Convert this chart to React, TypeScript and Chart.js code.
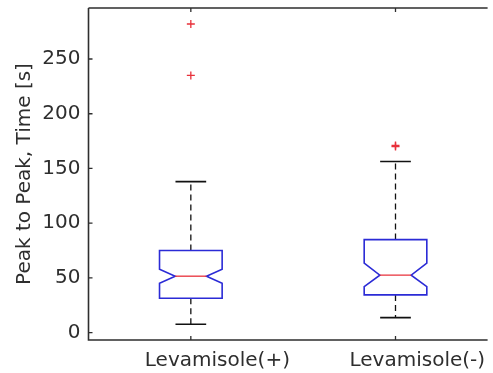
import React, { useEffect, useRef } from "react";
import { Chart, registerables } from "chart.js";

Chart.register(...registerables);

// ---- Data ----
const categories = ["Levamisole(+)", "Levamisole(-)"];
const q1Values = [31.4, 34.5];
const medianValues = [51.6, 52.5];
const q3Values = [75.0, 85.0];
const notchLowValues = [45.2, 42.0];
const notchHighValues = [58.0, 63.5];
const whiskerLowValues = [7.7, 13.7];
const whiskerHighValues = [138.0, 156.4];
const outliersLevPlus = [282, 235];
const outliersLevMinus = [170, 171];
const yTickValues = [0, 50, 100, 150, 200, 250];

// ---- Styling ----
const FONT = "'DejaVu Sans', sans-serif";
const FONT_SIZE = 20;
const AXIS_COLOR = "#2e2e2e";
const BOX_COLOR = "#2b2bd6";
const MEDIAN_COLOR = "#e8303a";
const OUTLIER_COLOR = "#e8303a";
const BOX_HALF = 0.153; // in x data units
const CAP_HALF = 0.075;

const boxPlugin = {
  id: "notchedBoxes",
  beforeDatasetsDraw(chart: any) {
    const { ctx } = chart;
    const x = chart.scales.x;
    const y = chart.scales.y;
    ctx.save();
    categories.forEach((_, i) => {
      const pos = i + 1;
      const xc = x.getPixelForValue(pos);
      const xl = x.getPixelForValue(pos - BOX_HALF);
      const xr = x.getPixelForValue(pos + BOX_HALF);
      const xnl = x.getPixelForValue(pos - BOX_HALF / 2);
      const xnr = x.getPixelForValue(pos + BOX_HALF / 2);
      const cl = x.getPixelForValue(pos - CAP_HALF);
      const cr = x.getPixelForValue(pos + CAP_HALF);
      const yq1 = y.getPixelForValue(q1Values[i]);
      const yq3 = y.getPixelForValue(q3Values[i]);
      const ymed = y.getPixelForValue(medianValues[i]);
      const ynl = y.getPixelForValue(notchLowValues[i]);
      const ynh = y.getPixelForValue(notchHighValues[i]);
      const ywl = y.getPixelForValue(whiskerLowValues[i]);
      const ywh = y.getPixelForValue(whiskerHighValues[i]);

      // whiskers (dashed)
      ctx.strokeStyle = "#111";
      ctx.lineWidth = 1.3;
      ctx.setLineDash([6, 4]);
      ctx.beginPath();
      ctx.moveTo(xc, yq3);
      ctx.lineTo(xc, ywh);
      ctx.moveTo(xc, yq1);
      ctx.lineTo(xc, ywl);
      ctx.stroke();
      ctx.setLineDash([]);
      // caps
      ctx.lineWidth = 1.6;
      ctx.beginPath();
      ctx.moveTo(cl, ywh);
      ctx.lineTo(cr, ywh);
      ctx.moveTo(cl, ywl);
      ctx.lineTo(cr, ywl);
      ctx.stroke();

      // notched box
      ctx.strokeStyle = BOX_COLOR;
      ctx.lineWidth = 1.6;
      ctx.beginPath();
      ctx.moveTo(xl, yq3);
      ctx.lineTo(xr, yq3);
      ctx.lineTo(xr, ynh);
      ctx.lineTo(xnr, ymed);
      ctx.lineTo(xr, ynl);
      ctx.lineTo(xr, yq1);
      ctx.lineTo(xl, yq1);
      ctx.lineTo(xl, ynl);
      ctx.lineTo(xnl, ymed);
      ctx.lineTo(xl, ynh);
      ctx.closePath();
      ctx.stroke();

      // median
      ctx.strokeStyle = MEDIAN_COLOR;
      ctx.lineWidth = 1.3;
      ctx.beginPath();
      ctx.moveTo(xnl, ymed);
      ctx.lineTo(xnr, ymed);
      ctx.stroke();
    });
    ctx.restore();
  },
  afterDatasetsDraw(chart: any) {
    const { ctx, chartArea } = chart;
    const x = chart.scales.x;
    const y = chart.scales.y;
    const { left, right, top, bottom } = chartArea;
    ctx.save();
    ctx.strokeStyle = AXIS_COLOR;
    ctx.lineWidth = 1.6;
    ctx.beginPath();
    ctx.moveTo(left, top);
    ctx.lineTo(right, top);
    ctx.moveTo(left, top);
    ctx.lineTo(left, bottom);
    ctx.lineTo(right, bottom);
    ctx.stroke();
    ctx.lineWidth = 1.3;
    ctx.beginPath();
    yTickValues.forEach((v) => {
      const py = y.getPixelForValue(v);
      ctx.moveTo(left, py);
      ctx.lineTo(left + 4, py);
    });
    categories.forEach((_, i) => {
      const px = x.getPixelForValue(i + 1);
      ctx.moveTo(px, bottom);
      ctx.lineTo(px, bottom - 4);
      ctx.moveTo(px, top);
      ctx.lineTo(px, top + 4);
    });
    ctx.stroke();
    ctx.restore();
  },
};

export default function App() {
  const canvasRef = useRef<HTMLCanvasElement | null>(null);

  useEffect(() => {
    const canvas = canvasRef.current;
    if (!canvas) return;
    const chart = new Chart(canvas, {
      type: "scatter",
      data: {
        datasets: [
          {
            label: categories[0],
            data: outliersLevPlus.map((v) => ({ x: 1, y: v })),
            pointStyle: "cross",
            radius: 4,
            borderColor: OUTLIER_COLOR,
            backgroundColor: OUTLIER_COLOR,
            borderWidth: 1.3,
          },
          {
            label: categories[1],
            data: outliersLevMinus.map((v) => ({ x: 2, y: v })),
            pointStyle: "cross",
            radius: 4,
            borderColor: OUTLIER_COLOR,
            backgroundColor: OUTLIER_COLOR,
            borderWidth: 1.4,
          },
        ],
      },
      options: {
        animation: false,
        responsive: false,
        devicePixelRatio: 1,
        events: [],
        layout: { padding: { top: 8, right: 0, left: 0, bottom: 0 } },
        plugins: {
          legend: { display: false },
          tooltip: { enabled: false },
          title: { display: false },
        },
        scales: {
          x: {
            type: "linear",
            min: 0.5,
            max: 2.45,
            grid: { display: false, drawTicks: false },
            border: { display: false },
            afterBuildTicks: (scale: any) => {
              scale.ticks = categories.map((_, i) => ({ value: i + 1 }));
            },
            afterFit: (scale: any) => {
              scale.height = 33;
              scale.paddingLeft = 0;
              scale.paddingRight = 0;
            },
            ticks: {
              callback: (value: any) => categories[Math.round(Number(value)) - 1] ?? "",
              font: { family: FONT, size: FONT_SIZE },
              color: AXIS_COLOR,
              padding: 9,
              align: "start",
              labelOffset: -46,
              maxRotation: 0,
              autoSkip: false,
            },
          },
          y: {
            type: "linear",
            min: -6.7,
            max: 296.6,
            grid: { display: false, drawTicks: false },
            border: { display: false },
            afterBuildTicks: (scale: any) => {
              scale.ticks = yTickValues.map((v) => ({ value: v }));
            },
            afterFit: (scale: any) => {
              scale.width = 88.5;
              scale.paddingTop = 0;
              scale.paddingBottom = 0;
            },
            ticks: {
              font: { family: FONT, size: FONT_SIZE },
              color: AXIS_COLOR,
              padding: 8,
            },
            title: {
              display: true,
              text: "Peak to Peak, Time [s]",
              font: { family: FONT, size: FONT_SIZE },
              color: AXIS_COLOR,
              padding: { top: 13, bottom: 0 },
            },
          },
        },
      },
      plugins: [boxPlugin],
    });
    return () => chart.destroy();
  }, []);

  return (
    <div style={{ position: "fixed", left: 0, top: 0, width: 493, height: 373, background: "#fff" }}>
      <canvas ref={canvasRef} width={493} height={373} style={{ display: "block" }} />
    </div>
  );
}
